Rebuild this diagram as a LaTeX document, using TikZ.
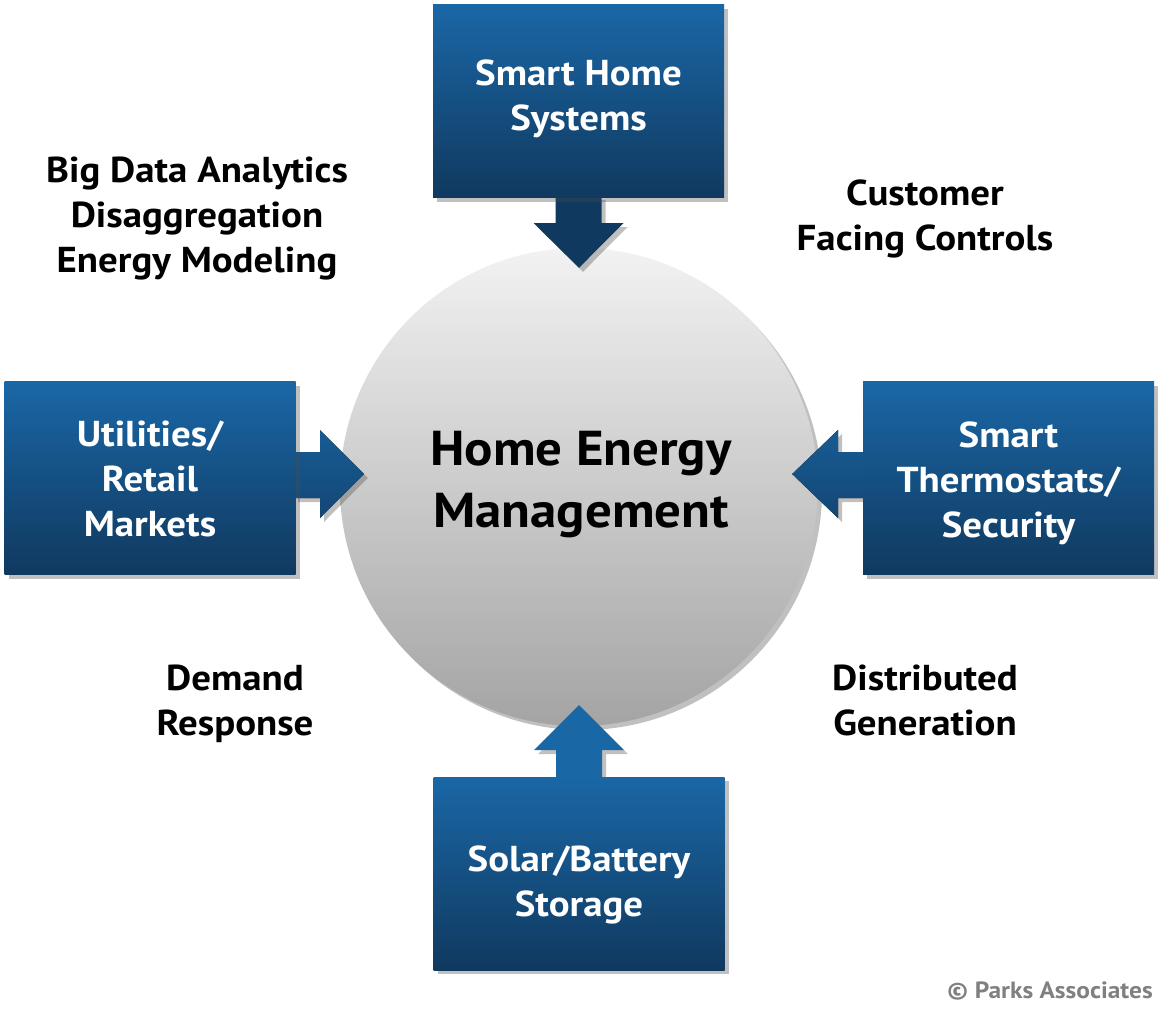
\documentclass[tikz,border=0pt]{standalone}
\usepackage{fontspec}
\setmainfont{PT Sans}[FakeStretch=1.08]
\usetikzlibrary{shadows,calc}
\definecolor{boxtop}{HTML}{1A67A6}
\definecolor{boxbot}{HTML}{10395F}
\definecolor{circtop}{HTML}{F2F2F2}
\definecolor{circbot}{HTML}{A4A4A4}
\definecolor{creditgray}{HTML}{808080}
\newcommand\hemBoxFont{\fontsize{36}{45}\selectfont\bfseries}
\newcommand\hemSideFont{\fontsize{36}{45}\selectfont\bfseries}
\newcommand\hemCenterFont{\fontsize{49}{62}\selectfont\bfseries}
\newcommand\hemCreditFont{\fontsize{23.5}{26}\selectfont\bfseries}
\begin{document}
\begin{tikzpicture}[x=1pt,y=-1pt,
  softshadow/.style={drop shadow={shadow xshift=4pt, shadow yshift=-4pt, opacity=0.35, fill=black!70}},
  box/.style={rectangle, minimum width=291, minimum height=193, top color=boxtop, bottom color=boxbot, inner sep=0pt, softshadow},
  boxtext/.style={font=\hemBoxFont, align=center, text=white, inner sep=0pt},
  sidetext/.style={font=\hemSideFont, align=center, text=black, inner sep=0pt},
  hubtext/.style={font=\hemCenterFont, align=center, text=black, inner sep=0pt},
  credittext/.style={font=\hemCreditFont, text=creditgray, inner sep=0pt, anchor=east}
]
\useasboundingbox (0,0) rectangle (1170,1021);
\fill[white] (0,0) rectangle (1170,1021);

% hub
\node[circle, minimum size=478, inner sep=0pt, top color=circtop, bottom color=circbot, softshadow] (hem) at (579,487) {};

% box edge points used by the arrows
\coordinate (shsS) at (578.5,197);
\coordinate (uteE) at (295,478);
\coordinate (statW) at (863,478);
\coordinate (solarN) at (579,777);

% arrows
\fill[boxbot, softshadow] ($(shsS)+(-23,-1)$) -- ($(shsS)+(23,-1)$) -- ($(shsS)+(23,26)$) -- ($(shsS)+(45,26)$) -- ($(hem.north)+(0,20)$) -- ($(shsS)+(-45,26)$) -- ($(shsS)+(-23,26)$) -- cycle;
\fill[top color=boxtop!75!boxbot, bottom color=boxtop!30!boxbot, softshadow] ($(uteE)+(-1,-26)$) -- ($(uteE)+(25,-26)$) -- ($(uteE)+(25,-48)$) -- ($(hem.west)+(24,-13)$) -- ($(uteE)+(25,40)$) -- ($(uteE)+(25,20)$) -- ($(uteE)+(-1,20)$) -- cycle;
\fill[top color=boxtop!75!boxbot, bottom color=boxtop!30!boxbot, softshadow] ($(statW)+(1,-26)$) -- ($(statW)+(-25,-26)$) -- ($(statW)+(-25,-48)$) -- ($(hem.east)+(-26,-13)$) -- ($(statW)+(-25,40)$) -- ($(statW)+(-25,20)$) -- ($(statW)+(1,20)$) -- cycle;
\fill[boxtop, softshadow] ($(solarN)+(-23,1)$) -- ($(solarN)+(23,1)$) -- ($(solarN)+(23,-27)$) -- ($(solarN)+(45,-27)$) -- ($(hem.south)+(0,-21)$) -- ($(solarN)+(-45,-27)$) -- ($(solarN)+(-23,-27)$) -- cycle;

% boxes
\node[box] (shs) at (578.5,101) {};
\node[box] (ute) at (150,478) {};
\node[box] (stat) at (1008.5,478) {};
\node[box] (solar) at (579,873.5) {};

% box texts
\node[boxtext] (shstext) at (578.5,99) {Smart Home\\Systems};
\node[boxtext] (utetext) at (150,479) {Utilities/\\Retail\\Markets};
\node[boxtext] (stattext) at (1008.5,483) {Smart\\Thermostats/\\Security};
\node[boxtext] (solartext) at (579,884.5) {Solar/Battery\\Storage};

% hub text
\node[hubtext] (hemtext) at (581,485) {Home Energy\\Management};

% side texts
\node[sidetext] (bigdata) at (197,219) {Big Data Analytics\\Disaggregation\\Energy Modeling};
\node[sidetext] (cust) at (925,219) {Customer\\Facing Controls};
\node[sidetext] (dr) at (235,704) {Demand\\Response};
\node[sidetext] (dg) at (925,700) {Distributed\\Generation};
\node[credittext] (credit) at (1153,991) {© Parks Associates};
\end{tikzpicture}
\end{document}
